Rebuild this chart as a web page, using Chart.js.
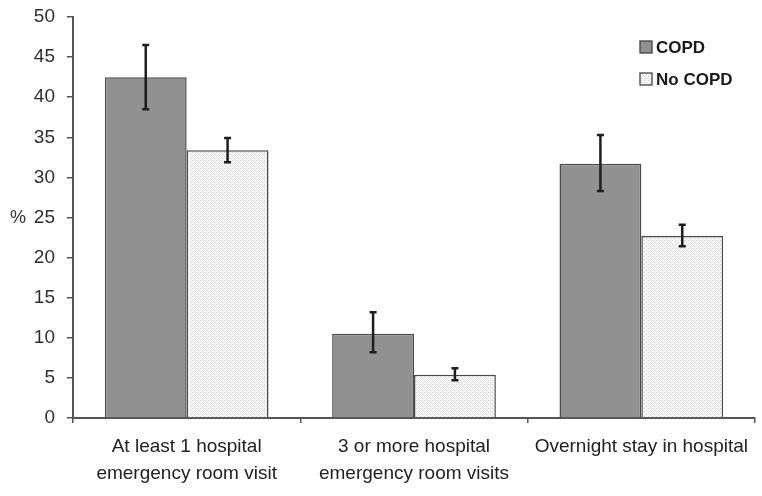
<!DOCTYPE html>
<html><head><meta charset="utf-8">
<script src="https://cdn.jsdelivr.net/npm/chart.js@4.4.0/dist/chart.umd.min.js"></script>
<style>html,body{margin:0;padding:0;background:#fff}#wrap{width:762px;height:496px}</style>
</head><body><div id="wrap"><canvas id="c" width="762" height="496"></canvas></div>
<script>
const categories = [["At least 1 hospital","emergency room visit"],["3 or more hospital","emergency room visits"],["Overnight stay in hospital"]];
const seriesNames = ["COPD","No COPD"];
const copdValues = [42.5, 10.5, 31.7];
const copdLow = [38.5, 8.2, 28.3];
const copdHigh = [46.5, 13.2, 35.3];
const noCopdValues = [33.4, 5.4, 22.7];
const noCopdLow = [31.9, 4.7, 21.4];
const noCopdHigh = [34.9, 6.2, 24.1];
const yTicks = [0,5,10,15,20,25,30,35,40,45,50];

function makePattern(){
  const p = document.createElement('canvas'); p.width = 4; p.height = 4;
  const g = p.getContext('2d');
  g.fillStyle = '#f3f3f3'; g.fillRect(0,0,4,4);
  g.fillStyle = '#d2d2d2'; g.fillRect(0,0,1,1); g.fillRect(2,2,1,1);
  return document.getElementById('c').getContext('2d').createPattern(p,'repeat');
}
const pat = makePattern();

const errorBars = {
  id:'errorBars',
  afterDatasetsDraw(chart){
    const ctx = chart.ctx, y = chart.scales.y;
    const lows = [copdLow, noCopdLow], highs = [copdHigh, noCopdHigh];
    ctx.save(); ctx.strokeStyle = '#1e1e1e'; ctx.lineWidth = 2.5;
    chart.data.datasets.forEach((ds, di) => {
      chart.getDatasetMeta(di).data.forEach((bar, i) => {
        const x = bar.x, y1 = y.getPixelForValue(lows[di][i]), y2 = y.getPixelForValue(highs[di][i]);
        ctx.beginPath(); ctx.moveTo(x,y1); ctx.lineTo(x,y2);
        ctx.moveTo(x-3.5,y1); ctx.lineTo(x+3.5,y1);
        ctx.moveTo(x-3.5,y2); ctx.lineTo(x+3.5,y2);
        ctx.stroke();
      });
    });
    ctx.restore();
  }
};
const extras = {
  id:'extras',
  afterDraw(chart){
    const ctx = chart.ctx; ctx.save();
    ctx.fillStyle = '#333'; ctx.font = '18px "Liberation Sans", Arial, sans-serif';
    ctx.textAlign = 'left'; ctx.textBaseline = 'middle';
    ctx.fillText('%', 10, chart.scales.y.getPixelForValue(25) + 1);
    const fills = ['#919191', pat];
    seriesNames.forEach((n, i) => {
      const yy = 47 + i*32;
      ctx.fillStyle = fills[i]; ctx.fillRect(640, yy-6, 12, 12);
      ctx.strokeStyle = '#444'; ctx.lineWidth = 1.3; ctx.strokeRect(640, yy-6, 12, 12);
      ctx.fillStyle = '#1a1a1a'; ctx.font = 'bold 17px "Liberation Sans", Arial, sans-serif';
      ctx.fillText(n, 656, yy+1);
    });
    ctx.restore();
  }
};

new Chart(document.getElementById('c'), {
  type:'bar',
  data:{ labels: categories, datasets:[
    { label: seriesNames[0], data: copdValues, backgroundColor:'#919191', borderColor:'#4a4a4a', borderWidth:1.5 },
    { label: seriesNames[1], data: noCopdValues, backgroundColor: pat, borderColor:'#4a4a4a', borderWidth:1.5 }
  ]},
  options:{
    responsive:false, animation:false, devicePixelRatio:1,
    layout:{ padding:{ top:17, right:7, left:0, bottom:0 } },
    plugins:{ legend:{display:false}, tooltip:{enabled:false} },
    datasets:{ bar:{ categoryPercentage:0.72, barPercentage:1.0 } },
    scales:{
      x:{
        grid:{ display:true, drawOnChartArea:false, drawTicks:true, tickLength:5, color:'#555', lineWidth:1.5 },
        border:{ display:true, color:'#555', width:2 },
        ticks:{ color:'#222', font:{ family:'"Liberation Sans", Arial, sans-serif', size:19, lineHeight:1.42 }, padding:10, maxRotation:0, autoSkip:false },
        afterFit(s){ s.height = 78; }
      },
      y:{
        min:0, max:50,
        afterBuildTicks(s){ s.ticks = yTicks.map(v => ({value:v})); },
        grid:{ display:true, drawOnChartArea:false, drawTicks:true, tickLength:6, color:'#555', lineWidth:1.5 },
        border:{ display:true, color:'#555', width:2 },
        ticks:{ color:'#2e2e2e', font:{ family:'"Liberation Sans", Arial, sans-serif', size:19 }, padding:12 },
        afterFit(s){ s.width = 73; s.paddingTop = 0; s.paddingBottom = 0; }
      }
    }
  },
  plugins:[errorBars, extras]
});
</script></body></html>
